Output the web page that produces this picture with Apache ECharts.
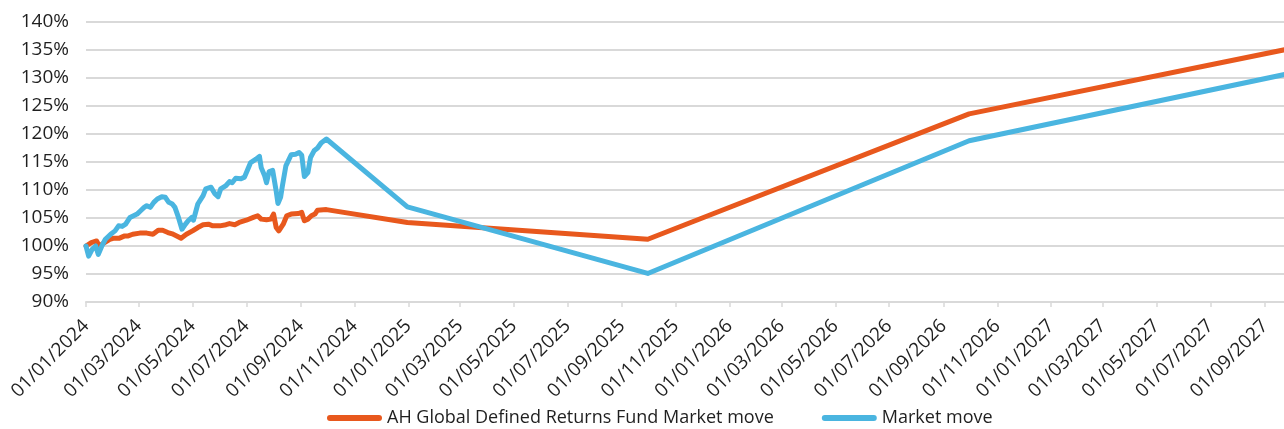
<!DOCTYPE html>
<html>
<head>
<meta charset="utf-8">
<script src="https://cdn.jsdelivr.net/npm/echarts@6/dist/echarts.min.js"></script>
<style>
html,body{margin:0;padding:0;background:#fff;}
#chart{width:1284px;height:429px;}
</style>
</head>
<body>
<div id="chart"></div>
<script>
// ---- data ----
const seriesNames = ['AH Global Defined Returns Fund Market move', 'Market move'];

const fundDates = [
  '2024-01-01','2024-01-07','2024-01-13','2024-01-16','2024-01-22','2024-01-28','2024-02-02','2024-02-08',
  '2024-02-14','2024-02-18','2024-02-23','2024-03-02','2024-03-10','2024-03-17','2024-03-23','2024-03-28',
  '2024-04-03','2024-04-09','2024-04-13','2024-04-18','2024-04-24','2024-05-01','2024-05-07','2024-05-13',
  '2024-05-19','2024-05-24','2024-06-01','2024-06-08','2024-06-12','2024-06-18','2024-06-23','2024-07-01',
  '2024-07-09','2024-07-14','2024-07-18','2024-07-24','2024-07-29','2024-08-01','2024-08-04','2024-08-07',
  '2024-08-12','2024-08-16','2024-08-21','2024-08-29','2024-09-02','2024-09-05','2024-09-09','2024-09-13',
  '2024-09-17','2024-09-20','2024-09-30','2024-12-31','2025-09-30','2026-09-30','2027-09-30'
];
const fundValues = [
  100.0,100.6,100.9,100.0,100.6,101.2,101.4,101.4,
  101.8,101.8,102.1,102.3,102.3,102.1,102.8,102.8,
  102.4,102.1,101.8,101.4,102.1,102.7,103.3,103.8,
  103.9,103.6,103.6,103.8,104.0,103.8,104.2,104.6,
  105.1,105.4,104.8,104.7,104.8,105.7,103.3,102.7,
  103.9,105.4,105.7,105.8,106.0,104.5,104.8,105.4,
  105.7,106.4,106.5,104.2,101.2,123.6,135.25
];

const marketDates = [
  '2024-01-01','2024-01-04','2024-01-08','2024-01-12','2024-01-15','2024-01-19','2024-01-23','2024-01-29',
  '2024-02-03','2024-02-07','2024-02-11','2024-02-15','2024-02-20','2024-02-24','2024-02-28','2024-03-03',
  '2024-03-07','2024-03-10','2024-03-14','2024-03-18','2024-03-22','2024-03-27','2024-03-31','2024-04-04',
  '2024-04-08','2024-04-11','2024-04-15','2024-04-19','2024-04-23','2024-04-26','2024-04-30','2024-05-02',
  '2024-05-07','2024-05-13','2024-05-16','2024-05-22','2024-05-26','2024-05-30','2024-06-02','2024-06-08',
  '2024-06-12','2024-06-15','2024-06-19','2024-06-25','2024-06-29','2024-07-03','2024-07-06','2024-07-12',
  '2024-07-16','2024-07-18','2024-07-22','2024-07-24','2024-07-27','2024-07-31','2024-08-04','2024-08-06',
  '2024-08-09','2024-08-11','2024-08-15','2024-08-21','2024-08-26','2024-08-30','2024-09-02','2024-09-05',
  '2024-09-09','2024-09-12','2024-09-16','2024-09-20','2024-09-24','2024-09-30','2024-12-31','2025-09-30',
  '2026-09-30','2027-09-30'
];
const marketValues = [
  100.0,98.2,99.4,100.0,98.5,100.0,101.2,102.1,
  102.7,103.6,103.5,103.9,105.1,105.4,105.7,106.3,
  106.9,107.2,106.9,107.8,108.4,108.8,108.7,107.8,
  107.5,106.9,105.1,103.0,103.9,104.5,105.1,104.6,
  107.5,109.0,110.2,110.5,109.4,108.8,110.2,110.8,
  111.5,111.3,112.1,112.0,112.3,113.8,114.9,115.5,
  116.0,114.0,112.5,111.3,113.3,113.5,109.8,107.6,
  108.7,110.7,114.3,116.3,116.4,116.7,116.2,112.4,
  113.1,115.8,117.0,117.5,118.4,119.1,107.0,95.1,
  118.8,130.85
];

const tickDates = [
  '2024-01-01','2024-03-01','2024-05-01','2024-07-01','2024-09-01','2024-11-01',
  '2025-01-01','2025-03-01','2025-05-01','2025-07-01','2025-09-01','2025-11-01',
  '2026-01-01','2026-03-01','2026-05-01','2026-07-01','2026-09-01','2026-11-01',
  '2027-01-01','2027-03-01','2027-05-01','2027-07-01','2027-09-01'
];
const axisStart = '2024-01-01';
const axisEnd = '2027-09-22T14:00';
const yMin = 90, yMax = 140, yStep = 5;

// ---- helpers ----
function ts(s) {
  const [d, t] = s.split('T');
  const [y, m, day] = d.split('-').map(Number);
  let h = 0, mi = 0;
  if (t) { [h, mi] = t.split(':').map(Number); }
  return new Date(y, m - 1, day, h, mi).getTime();
}
function fmt(v) {
  const d = new Date(v);
  const p = n => (n < 10 ? '0' : '') + n;
  return p(d.getDate()) + '/' + p(d.getMonth() + 1) + '/' + d.getFullYear();
}
function pairs(dates, vals) { return dates.map((d, i) => [ts(d), vals[i]]); }

const FONT = '"Open Sans"';
const TXT = '#1f1f1f';
const GRID = '#d9d9d9';
const ORANGE = '#E8581D';
const BLUE = '#4AB5E0';
const legendIcon = 'path://M3,0 L52,0 A3,3 0 0 1 52,6 L3,6 A3,3 0 0 1 3,0 Z';
const tickTs = tickDates.map(ts);

const chart = echarts.init(document.getElementById('chart'), null, { renderer: 'canvas' });
chart.setOption({
  animation: false,
  backgroundColor: '#ffffff',
  textStyle: { fontFamily: FONT },
  grid: { left: 86, right: 0, top: 22, bottom: 127, containLabel: false },
  legend: {
    left: 327, top: 409, padding: 0,
    itemWidth: 55, itemHeight: 6, itemGap: 48,
    textStyle: { fontFamily: FONT, fontSize: 18, color: TXT },
    data: [
      { name: seriesNames[0], icon: legendIcon, itemStyle: { color: ORANGE } },
      { name: seriesNames[1], icon: legendIcon, itemStyle: { color: BLUE } }
    ]
  },
  xAxis: {
    type: 'value',
    min: ts(axisStart),
    max: ts(axisEnd),
    axisLine: { show: true, lineStyle: { color: GRID, width: 2 } },
    axisTick: { show: true, length: 5, lineStyle: { color: GRID, width: 1.5 }, customValues: tickTs },
    axisLabel: {
      customValues: tickTs,
      rotate: 45, margin: 21,
      fontFamily: FONT, fontSize: 19, color: TXT,
      formatter: v => fmt(v),
      hideOverlap: false
    },
    splitLine: { show: false }
  },
  yAxis: {
    type: 'value',
    min: yMin, max: yMax, interval: yStep,
    axisLine: { show: false },
    axisTick: { show: false },
    axisLabel: { margin: 17, fontFamily: FONT, fontSize: 19, color: TXT, formatter: '{value}%' },
    splitLine: { lineStyle: { color: GRID, width: 2 } }
  },
  series: [
    {
      name: seriesNames[0], type: 'line', showSymbol: false, symbol: 'none',
      data: pairs(fundDates, fundValues),
      lineStyle: { color: ORANGE, width: 5, cap: 'round', join: 'round' },
      itemStyle: { color: ORANGE }
    },
    {
      name: seriesNames[1], type: 'line', showSymbol: false, symbol: 'none',
      data: pairs(marketDates, marketValues),
      lineStyle: { color: BLUE, width: 5, cap: 'round', join: 'round' },
      itemStyle: { color: BLUE }
    }
  ]
});
</script>
</body>
</html>
